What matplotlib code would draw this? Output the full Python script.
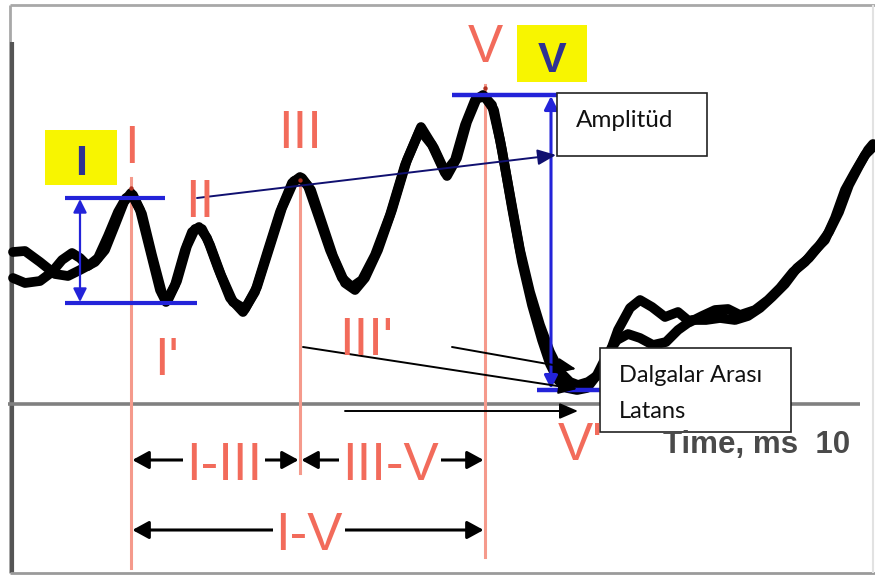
import matplotlib
matplotlib.use('Agg')
import matplotlib.pyplot as plt
from matplotlib.transforms import Affine2D, blended_transform_factory
from matplotlib.patches import Rectangle

# ---------------- data (time in ms, amplitude in arbitrary µV units) -------------
time_a = [-0.025, 0.125, 0.3125, 0.5, 0.6625, 0.8125, 1.0, 1.125, 1.25, 1.3625,
          1.45, 1.5625, 1.6875, 1.8125, 1.8875, 2.0, 2.125, 2.2125, 2.3, 2.4,
          2.5375, 2.6875, 2.85, 3.0, 3.1625, 3.3125, 3.4625, 3.5625, 3.6625, 3.7875,
          3.9375, 4.0875, 4.2125, 4.3375, 4.5, 4.6875, 4.875, 5.0625, 5.2125, 5.375,
          5.5, 5.625, 5.75, 5.85, 5.9625, 6.0625, 6.1875, 6.3125, 6.4375, 6.5625,
          6.6875, 6.8125, 6.9375, 7.0375, 7.1625, 7.2875, 7.4125, 7.5375, 7.6875, 7.8125,
          7.9625, 8.125, 8.2875, 8.4375, 8.5875, 8.75, 8.9125, 9.0625, 9.25, 9.4125,
          9.5625, 9.725, 9.875, 10.0, 10.125, 10.25, 10.375, 10.5, 10.625, 10.725]
amp_a = [1.52, 1.53, 1.42, 1.30, 1.28, 1.34, 1.42, 1.54, 1.79, 2.02,
         2.11, 1.94, 1.54, 1.14, 1.02, 1.19, 1.54, 1.72, 1.77, 1.66,
         1.36, 1.06, 0.92, 1.12, 1.54, 1.92, 2.21, 2.27, 2.18, 1.89,
         1.54, 1.26, 1.17, 1.24, 1.49, 1.89, 2.39, 2.74, 2.59, 2.31,
         2.44, 2.79, 3.04, 3.09, 2.99, 2.64, 2.09, 1.54, 1.12, 0.79,
         0.52, 0.32, 0.22, 0.19, 0.22, 0.29, 0.46, 0.74, 0.96, 1.04,
         0.97, 0.87, 0.92, 0.82, 0.88, 0.94, 0.95, 0.89, 0.94, 1.04,
         1.16, 1.32, 1.42, 1.54, 1.64, 1.86, 2.14, 2.32, 2.49, 2.57]

time_b = [-0.025, 0.125, 0.3125, 0.4625, 0.5875, 0.7125, 0.8125, 0.9125, 1.0375, 1.1625,
          1.2875, 1.3875, 1.475, 1.5875, 1.7125, 1.8375, 1.9125, 2.025, 2.15, 2.25,
          2.3375, 2.4375, 2.575, 2.725, 2.875, 3.025, 3.1875, 3.3375, 3.4875, 3.5875,
          3.7, 3.825, 3.975, 4.125, 4.25, 4.375, 4.5375, 4.7125, 4.9, 5.075,
          5.2375, 5.4, 5.525, 5.65, 5.775, 5.875, 5.9875, 6.0875, 6.2125, 6.3375,
          6.4625, 6.5875, 6.6875, 6.7875, 6.9, 7.025, 7.15, 7.275, 7.4, 7.525,
          7.6625, 7.8125, 7.975, 8.1375, 8.2875, 8.4625, 8.6375, 8.8125, 9.0, 9.1625,
          9.3125, 9.4625, 9.625, 9.775, 9.925, 10.05, 10.175, 10.3, 10.425, 10.55,
          10.6625, 10.725]
amp_b = [1.26, 1.21, 1.23, 1.32, 1.44, 1.51, 1.46, 1.38, 1.46, 1.68,
         1.92, 2.06, 2.09, 1.90, 1.49, 1.11, 1.04, 1.23, 1.58, 1.75,
         1.75, 1.59, 1.29, 1.02, 0.95, 1.17, 1.58, 1.96, 2.23, 2.26,
         2.14, 1.84, 1.48, 1.21, 1.14, 1.26, 1.54, 1.94, 2.44, 2.77,
         2.56, 2.28, 2.46, 2.82, 3.06, 3.07, 2.94, 2.54, 1.96, 1.42,
         0.99, 0.64, 0.40, 0.24, 0.16, 0.14, 0.16, 0.29, 0.49, 0.64,
         0.70, 0.66, 0.59, 0.62, 0.74, 0.84, 0.84, 0.86, 0.84, 0.88,
         0.96, 1.07, 1.20, 1.36, 1.46, 1.58, 1.72, 1.92, 2.19, 2.38,
         2.54, 2.60]

peak_names = ['I', 'III', 'V']
peak_lat = [1.45, 3.5625, 5.875]
peak_amp = [2.16, 2.24, 3.16]
trough_names = ["I'", "III'", "V'"]
minor_peak = 'II'
interval_labels = ['I-III', 'III-V', 'I-V']
box_peak_labels = ['I', 'V']
x_label = 'Time, ms  10'
amp_text = 'Amplitüd'
lat_text = ['Dalgalar Arası', 'Latans']

# ---------------- figure -------------------------------------------------------
W, H = 875, 578
fig = plt.figure(figsize=(W / 100, H / 100), dpi=100)
ax = fig.add_axes([0, 0, 1, 1])
ax.set_xlim(-15 / 80, (W - 15) / 80)
ax.set_ylim((404 - H) / 100, 404 / 100)
ax.axis('off')

P = Affine2D().scale(1 / W, -1 / H).translate(0, 1) + fig.transFigure   # pixel coords
XP = blended_transform_factory(ax.transData, P)

RED_T = '#F26B5B'
RED_L = '#F59A8C'
BLUE = '#2323D9'
DBLUE = '#2E3192'
NAVY = '#101070'
NARROW = ['Liberation Sans Narrow', 'Liberation Sans', 'DejaVu Sans']

def pline(x0, y0, x1, y1, **kw):
    ax.plot([x0, x1], [y0, y1], transform=P, solid_capstyle='butt', **kw)

# frame
pline(10, 5, 875, 5, color='#a8a8a8', lw=2.0, zorder=1)
pline(10, 5, 10, 573, color='#a8a8a8', lw=2.0, zorder=1)
pline(12, 42, 12, 573, color='#555555', lw=3.0, zorder=1)
pline(10, 573, 875, 573, color='#9a9a9a', lw=2.0, zorder=1)
pline(873, 5, 873, 573, color='#e2e2e2', lw=1.5, zorder=1)
pline(8, 404, 860, 404, color='#808080', lw=2.6, zorder=1)

# red vertical latency lines
red_tops = [178, 180, 85]
red_bottoms = [568, 473, 557]
for t, y0, y1 in zip(peak_lat, red_tops, red_bottoms):
    ax.plot([t, t], [y0, y1], transform=XP, color=RED_L, lw=2.2, zorder=2)

# waveforms
for tt, aa in ((time_a, amp_a), (time_b, amp_b)):
    ax.plot(tt, aa, color='black', lw=7.0, solid_joinstyle='round',
            solid_capstyle='round', zorder=3)
ax.scatter(peak_lat, peak_amp, s=10, color='#B03020', zorder=3.5, linewidths=0)

# yellow boxes with blue peak names
for (x0, y0, w, h), lab, (tx, ty) in zip([(45, 130, 72, 55), (517, 25, 70, 57)],
                                         box_peak_labels, [(81, 175), (552, 72)]):
    ax.add_patch(Rectangle((x0, y0), w, h, transform=P, facecolor='#F8F500',
                           edgecolor='none', zorder=2))
    ax.text(tx, ty, lab, transform=P, ha='center', va='baseline', color=DBLUE,
            fontsize=31, fontweight='bold', family=['Liberation Sans', 'DejaVu Sans'],
            zorder=7)

# blue amplitude markers
pline(65, 198, 165, 198, color=BLUE, lw=3.0, zorder=4)
pline(65, 303, 197, 303, color=BLUE, lw=3.0, zorder=4)
ax.annotate('', xy=(80, 199), xytext=(80, 302), xycoords=P, textcoords=P,
            arrowprops=dict(arrowstyle='<|-|>,head_length=0.5,head_width=0.25',
                            color=BLUE, lw=1.6, mutation_scale=16,
                            shrinkA=0, shrinkB=0), zorder=4)
pline(452, 95, 560, 95, color=BLUE, lw=3.2, zorder=4)
pline(537, 390, 600, 390, color=BLUE, lw=3.2, zorder=4)
ax.annotate('', xy=(551, 96), xytext=(551, 389), xycoords=P, textcoords=P,
            arrowprops=dict(arrowstyle='<|-|>,head_length=0.5,head_width=0.25',
                            color=BLUE, lw=2.2, mutation_scale=16,
                            shrinkA=0, shrinkB=0), zorder=4)

# red peak / trough labels
peak_label_y = [163, 148, 62]
for name, t, y in zip(peak_names, peak_lat, peak_label_y):
    ax.text(t, y, name, transform=XP, ha='center', va='baseline', color=RED_T,
            fontsize=38, family=NARROW, zorder=7)
ax.text(200, 217, minor_peak, transform=P, ha='center', va='baseline', color=RED_T,
        fontsize=38, family=NARROW, zorder=7)
for name, (x, y) in zip(trough_names, [(166, 375), (366, 355), (580, 460)]):
    ax.text(x, y, name, transform=P, ha='center', va='baseline', color=RED_T,
            fontsize=38, family=NARROW, zorder=7)

# interval arrows
spans = [(0, 1, 460, 224), (1, 2, 460, 390), (0, 2, 530, 309)]
for (i0, i1, y, xc), lab in zip(spans, interval_labels):
    ax.annotate('', xy=(peak_lat[i1], y), xytext=(peak_lat[i0], y),
                xycoords=XP, textcoords=XP,
                arrowprops=dict(arrowstyle='<|-|>,head_length=0.55,head_width=0.3',
                                color='black', lw=2.2, mutation_scale=18,
                                shrinkA=1, shrinkB=1), zorder=5)
    ax.text(xc, y + 20, lab, transform=P, ha='center', va='baseline', color=RED_T,
            fontsize=38, family=NARROW, zorder=7,
            bbox=dict(facecolor='white', edgecolor='none', pad=2))

# navy arrow to Amplitüd box
ax.annotate('', xy=(556, 155), xytext=(197, 198), xycoords=P, textcoords=P,
            arrowprops=dict(arrowstyle='-|>,head_length=0.7,head_width=0.3',
                            color=NAVY, lw=1.4, mutation_scale=16,
                            shrinkA=0, shrinkB=0), zorder=5)

# black arrows to latency box
for (x0, y0), (x1, y1) in [((452, 347), (576, 369)), ((303, 347), (577, 389)),
                           ((345, 411), (578, 411))]:
    ax.annotate('', xy=(x1, y1), xytext=(x0, y0), xycoords=P, textcoords=P,
                arrowprops=dict(arrowstyle='-|>,head_length=0.7,head_width=0.3',
                                color='black', lw=1.4, mutation_scale=16,
                                shrinkA=0, shrinkB=0), zorder=5)

# text boxes
ax.add_patch(Rectangle((557, 93), 150, 63, transform=P, facecolor='white',
                       edgecolor='#222222', lw=1.2, zorder=6))
ax.text(576, 127, amp_text, transform=P, ha='left', va='baseline', color='#111111',
        fontsize=17.5, family=['Lato', 'DejaVu Sans'], zorder=7)
ax.add_patch(Rectangle((600, 348), 191, 84, transform=P, facecolor='white',
                       edgecolor='#222222', lw=1.2, zorder=6))
for s, yb in zip(lat_text, [382, 418]):
    ax.text(619, yb, s, transform=P, ha='left', va='baseline', color='#111111',
            fontsize=17, family=['Lato', 'DejaVu Sans'], zorder=7)

# axis label
ax.text(663, 453, x_label, transform=P, ha='left', va='baseline', color='#4a4a4a',
        fontsize=22.5, fontweight='bold', family=['Liberation Sans', 'DejaVu Sans'],
        zorder=7)

fig.savefig('out.png', dpi=100)
